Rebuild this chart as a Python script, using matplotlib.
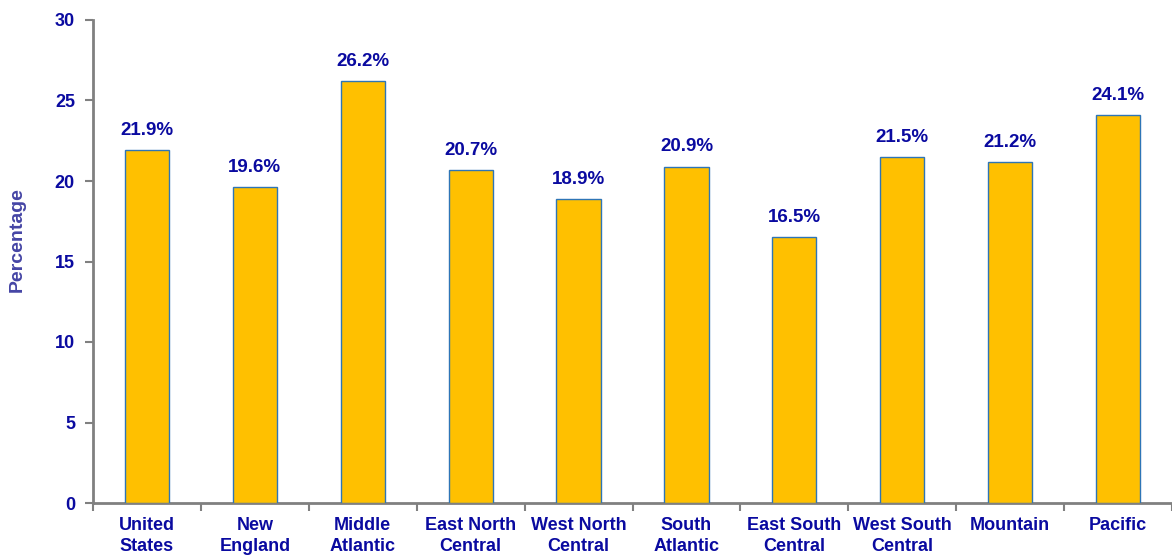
import matplotlib
matplotlib.use("Agg")
import matplotlib.pyplot as plt
import numpy as np

categories = ["United\nStates", "New\nEngland", "Middle\nAtlantic", "East North\nCentral",
              "West North\nCentral", "South\nAtlantic", "East South\nCentral",
              "West South\nCentral", "Mountain", "Pacific"]
values = [21.9, 19.6, 26.2, 20.7, 18.9, 20.9, 16.5, 21.5, 21.2, 24.1]
value_labels = ["21.9%", "19.6%", "26.2%", "20.7%", "18.9%", "20.9%", "16.5%", "21.5%", "21.2%", "24.1%"]
yticks = [0, 5, 10, 15, 20, 25, 30]

plt.rcParams['font.family'] = ['Liberation Sans', 'DejaVu Sans']
navy = '#0A0AA0'

fig = plt.figure(figsize=(11.72, 5.55), dpi=100)
ax = fig.add_axes([93/1172, 1 - 503/555, 1 - 93/1172, (503 - 20)/555])

x = np.arange(len(categories))
ax.bar(x, values, width=0.41, color='#FFC000', edgecolor='#2E75B6', linewidth=1.0, zorder=3)

for xi, v, lab in zip(x, values, value_labels):
    ax.annotate(lab, (xi, v), xytext=(0, 8), textcoords='offset points',
                ha='center', va='bottom', fontsize=13.5, fontweight='bold', color=navy)

ax.set_xlim(-0.5, 9.5)
ax.set_ylim(0, 30)
ax.set_yticks(yticks)
ax.set_yticklabels([str(t) for t in yticks], fontsize=13, fontweight='bold', color=navy)

ax.set_xticks(x)
ax.set_xticklabels(categories, fontsize=13, fontweight='bold', color=navy, linespacing=1.3)
ax.tick_params(axis='x', length=0, pad=10)
ax.set_xticks(np.arange(-0.5, 10, 1), minor=True)
ax.tick_params(axis='x', which='minor', length=6, color='#808080', width=1.5, direction='out')
ax.tick_params(axis='y', length=6, color='#808080', width=1.5, direction='out', pad=7)

for s in ['top', 'right']:
    ax.spines[s].set_visible(False)
for s in ['left', 'bottom']:
    ax.spines[s].set_color('#808080')
    ax.spines[s].set_linewidth(2)

ax.set_ylabel("Percentage", fontsize=14, fontweight='bold', color='#4545A5')
ax.yaxis.set_label_coords(-67/1079, (503 - 240)/483)

fig.savefig("out.png", dpi=100)
